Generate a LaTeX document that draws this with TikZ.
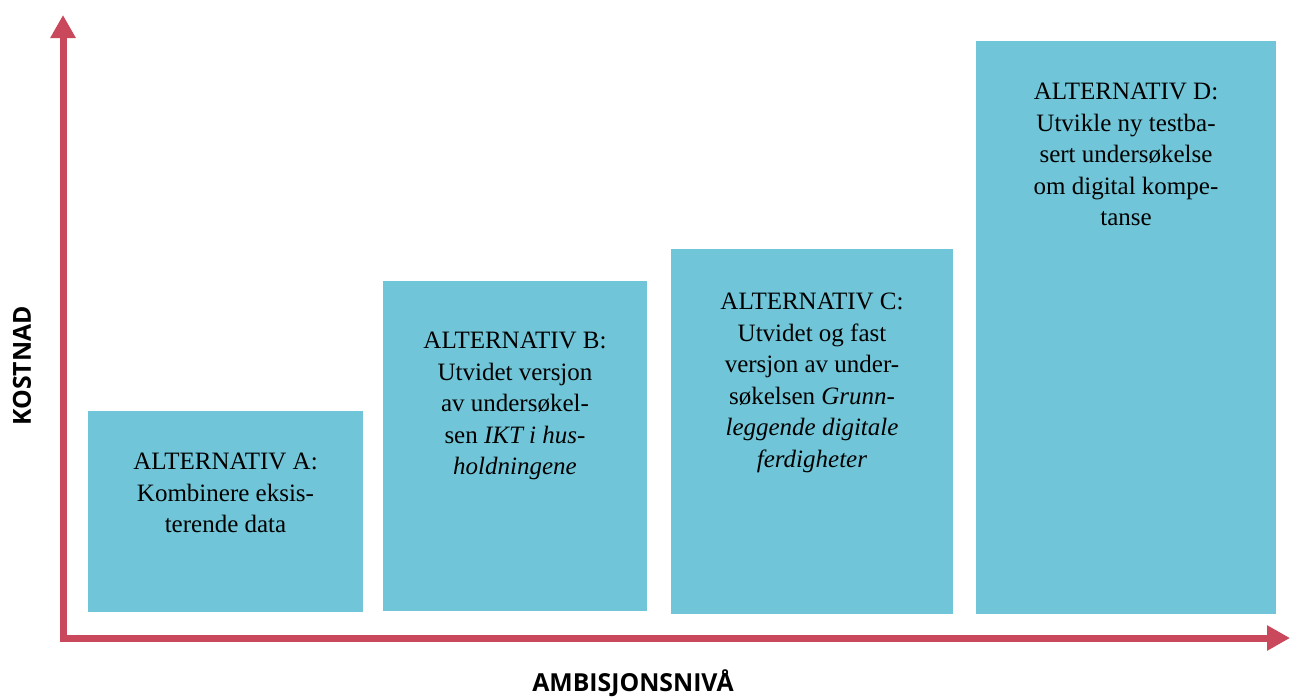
\documentclass[tikz,border=0pt]{standalone}
\usepackage{fontspec}
\setmainfont{Liberation Serif}
\newfontfamily\axisfont{Open Sans}
\usepackage{xcolor}
\usetikzlibrary{positioning,arrows.meta}

\definecolor{altblue}{RGB}{112,198,216}
\definecolor{axisred}{RGB}{201,72,91}

\begin{document}
\begin{tikzpicture}[x=0.5pt,y=-0.5pt,
		altbox/.style={fill=altblue, draw=none, inner sep=0pt, outer sep=0pt, anchor=north west},
		alttext/.style={align=center, inner sep=0pt, font=\fontsize{12.5}{15.75}\selectfont},
		axis/.style={draw=axisred, line width=3.5pt, line join=miter, {Triangle[length=11.5pt,width=12pt]}-{Triangle[length=11.5pt,width=12pt]}},
		axislabel/.style={font=\axisfont\bfseries\fontsize{12.4}{14}\selectfont, inner sep=0pt}]
	\useasboundingbox (0,0) rectangle (1290,698);
	% Boxes for the four alternatives
	\node[altbox, minimum width=137.5pt, minimum height=100.5pt] (boxA) at (88,411) {};
	\node[altbox, minimum width=132pt, minimum height=165pt] (boxB) at (383,281) {};
	\node[altbox, minimum width=141pt, minimum height=182.5pt] (boxC) at (671,249) {};
	\node[altbox, minimum width=150pt, minimum height=286.5pt] (boxD) at (976,41) {};
	\node[alttext, below=21pt of boxA.north] (textA) {ALTERNATIV A:\\ Kombinere eksis-\\ terende data};
	\node[alttext, below=25.5pt of boxB.north] (textB) {ALTERNATIV B:\\ Utvidet versjon\\ av undersøkel-\\ sen \textit{IKT i hus-}\\ \textit{holdningene}};
	\node[alttext, below=22pt of boxC.north] (textC) {ALTERNATIV C:\\ Utvidet og fast\\ versjon av under-\\ søkelsen \textit{Grunn-}\\ \textit{leggende digitale}\\ \textit{ferdigheter}};
	\node[alttext, below=21pt of boxD.north] (textD) {ALTERNATIV D:\\ Utvikle ny testba-\\ sert undersøkelse\\ om digital kompe-\\ tanse};
	% Axes
	\coordinate [] (origin) at (63,638) ;
	\coordinate [] (ytop) at (63,15) ;
	\coordinate [] (xend) at (1290,638) ;
	\draw[axis] (ytop) -- (origin) -- (xend);
	\node[axislabel, rotate=90] (ylabel) at (22,366) {KOSTNAD};
	\node[axislabel] (xlabel) at (633,683) {AMBISJONSNIVÅ};
\end{tikzpicture}
\end{document}
